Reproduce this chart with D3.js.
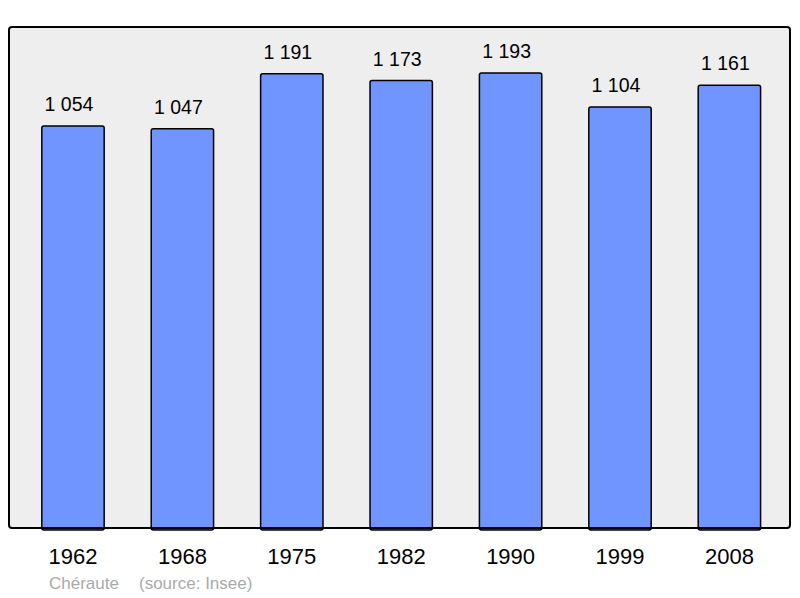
<!DOCTYPE html>
<html>
<head>
<meta charset="utf-8">
<script src="https://cdn.jsdelivr.net/npm/d3@7"></script>
<style>
  body { margin: 0; background: #fff; }
  text { font-family: "Liberation Sans", Arial, sans-serif; }
</style>
</head>
<body>
<svg id="chart" width="800" height="598"></svg>
<script>
// données
var years = ["1962", "1968", "1975", "1982", "1990", "1999", "2008"];
var population = [1054, 1047, 1191, 1173, 1193, 1104, 1161];
var commune = "Chéraute";
var source = "(source: Insee)";

var svg = d3.select("#chart");

var panel = { x: 9, y: 27, w: 781, h: 501 };

var x = d3.scaleBand()
    .domain(years)
    .range([18.3, 784.1])
    .paddingInner(0.43)
    .paddingOuter(0.215);

var y = d3.scaleLinear()
    .domain([0, d3.max(population) * 1.101])
    .range([panel.y + panel.h, panel.y]);

// fond gris
svg.append("rect")
    .attr("x", panel.x).attr("y", panel.y)
    .attr("width", panel.w).attr("height", panel.h)
    .attr("rx", 3)
    .attr("fill", "#eeeeee");

// barres
svg.selectAll("rect.bar")
    .data(population)
    .enter()
    .append("rect")
    .attr("class", "bar")
    .attr("x", function(d, i) { return x(years[i]); })
    .attr("y", function(d) { return y(d); })
    .attr("width", x.bandwidth())
    .attr("height", function(d) { return y(0) - y(d) + 2; })
    .attr("rx", 2)
    .attr("fill", "#7095ff")
    .attr("stroke", "#000")
    .attr("stroke-width", 1.5);

// cadre
svg.append("rect")
    .attr("x", panel.x).attr("y", panel.y)
    .attr("width", panel.w).attr("height", panel.h)
    .attr("rx", 3)
    .attr("fill", "none")
    .attr("stroke", "#000")
    .attr("stroke-width", 2);

// valeurs au-dessus des barres
svg.selectAll("text.val")
    .data(population)
    .enter()
    .append("text")
    .attr("class", "val")
    .attr("x", function(d, i) { return x(years[i]) + x.bandwidth() / 2 - 4; })
    .attr("y", function(d) { return y(d) - 15; })
    .attr("text-anchor", "middle")
    .attr("font-size", "19.5px")
    .attr("fill", "#000")
    .text(function(d) { return d3.format(",")(d).replace(",", " "); });

// années
svg.append("g")
    .attr("transform", "translate(0," + (panel.y + panel.h) + ")")
    .call(d3.axisBottom(x).tickSize(0).tickPadding(20))
    .call(function(g) { g.select(".domain").remove(); })
    .selectAll("text")
    .attr("font-size", "22px")
    .attr("font-family", "Liberation Sans, Arial, sans-serif")
    .attr("fill", "#000")
    .attr("dy", "0.71em");

// source
svg.append("text")
    .attr("x", 49).attr("y", 589)
    .attr("font-size", "17px")
    .attr("fill", "#aaaaaa")
    .text(commune);
svg.append("text")
    .attr("x", 139).attr("y", 589)
    .attr("font-size", "17px")
    .attr("fill", "#aaaaaa")
    .text(source);
</script>
</body>
</html>
